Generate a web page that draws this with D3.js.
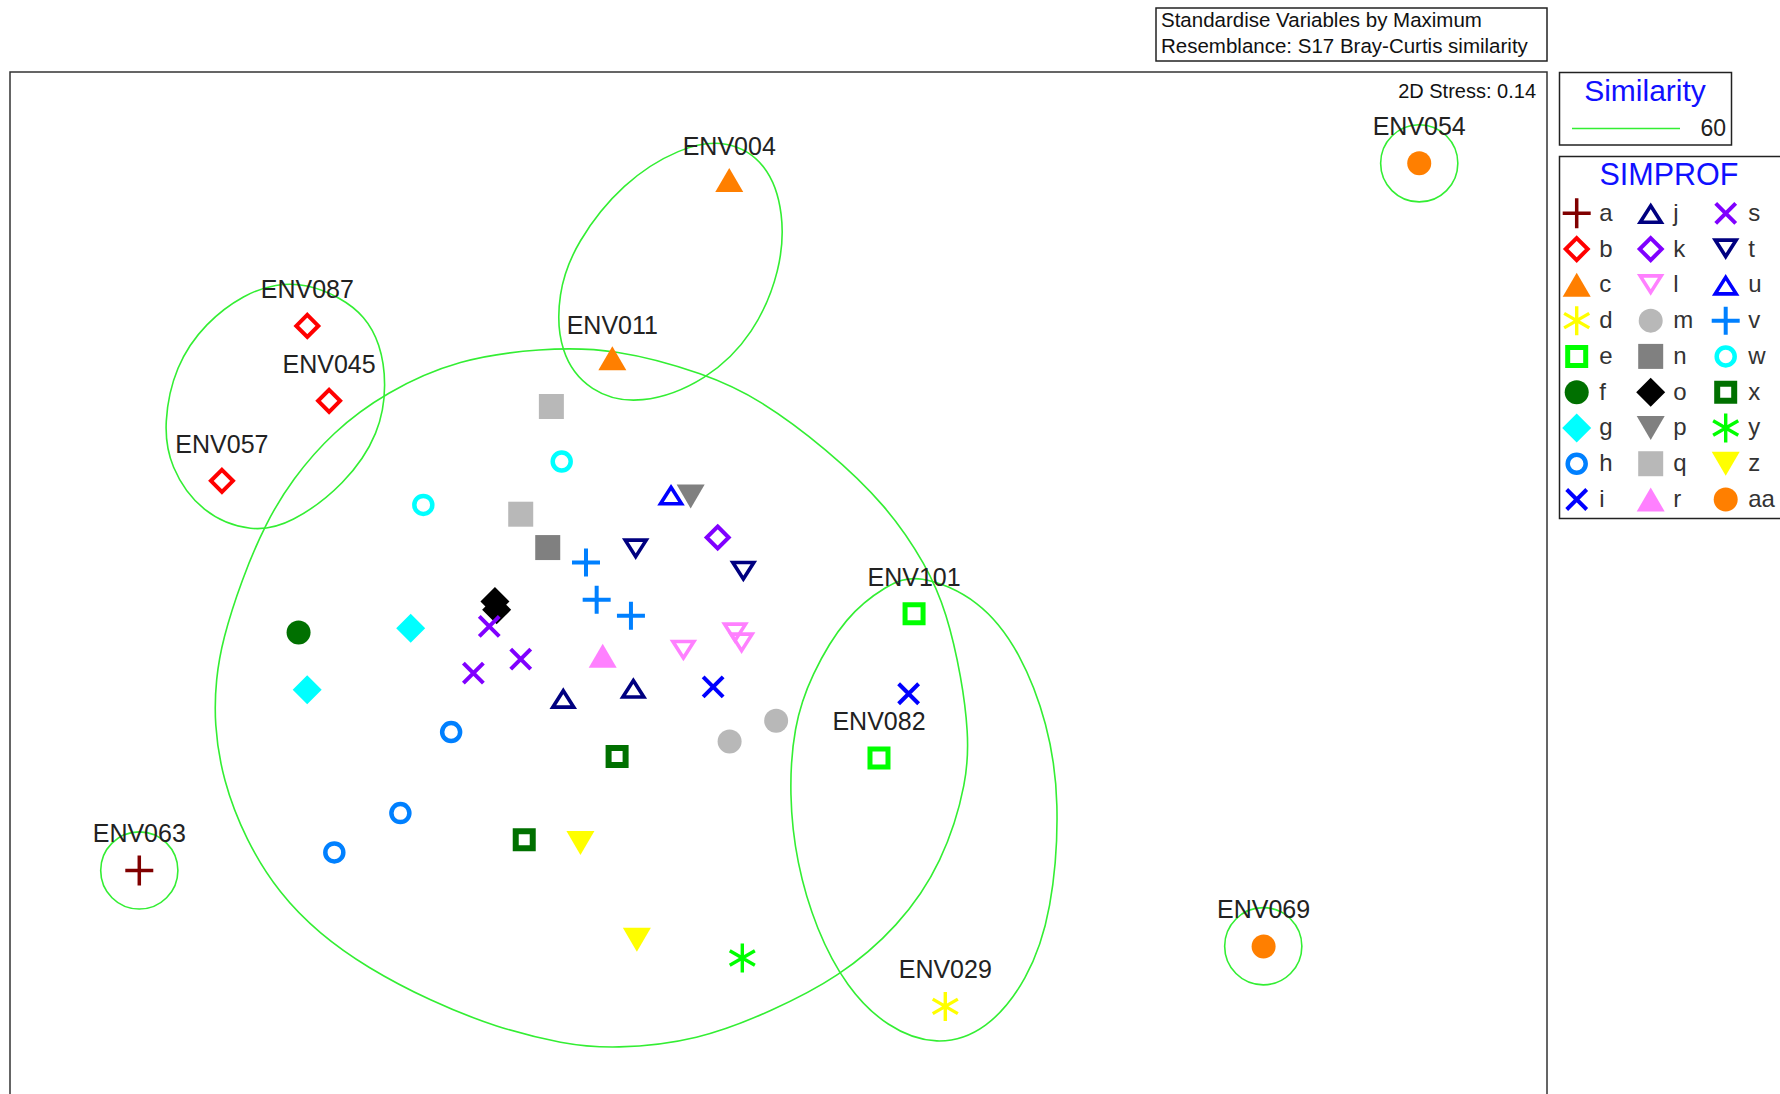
<!DOCTYPE html>
<html><head><meta charset="utf-8">
<script src="https://cdn.jsdelivr.net/npm/d3@7"></script>
<style>html,body{margin:0;padding:0;background:#fff;} svg{display:block;font-family:"Liberation Sans",Arial,sans-serif;}</style>
</head><body><svg id="chart" width="1780" height="1094"></svg>
<script>
// ---------- DATA (MDS ordination, plot units) ----------
const sampleGroup = ["a","b","b","b","c","c","d","e","e","f","g","g","h","h","h","i","i","j","j","k","l","l","l","m","m","n","o","o","p","q","q","r","s","s","s","t","t","u","v","v","v","w","w","x","x","y","z","z","aa","aa"];
const mds1 = [122.7, 270.7,289.9,195.5, 642.4,539.4, 832.7, 805.2,774.3, 263, 361.8,270.6, 397.4,352.7,294.5, 628.2,800.4, 496.2,557.9, 632.2, 602,647.5,653.3, 642.7,683.7, 482.5, 436,437.5, 608.4, 485.7,458.7, 530.9, 431,458.7,417, 560,654.8, 591.1, 516.2,525.6,555.8, 494.8,372.9, 543.6,461.8, 653.9, 511.3,561, 1250.2,1113.1];
const mds2 = [767, 287.2,353.2,423.7, 158.6,315.6, 886.8, 540.9,668, 557.3, 553.5,607.8, 645.1,716.5,751.1, 605.2,611.3, 615.2,606.3, 473.6, 573.2,557.9,566.7, 653.3,635.1, 482.5, 530,537.3, 437.5, 358.2,453.1, 577.9, 552,580.8,593.1, 483.9,503.6, 436, 495.7,528.5,542.6, 406.7,444.9, 666.6,740, 844.2, 742.9,828, 143.9,834];
const sampleLabel = ["ENV063","ENV087","ENV045","ENV057","ENV004","ENV011","ENV029","ENV101","ENV082",
  "","","","","","","","","","","","","","","","","","","","","","","","","","","","","","","","","","","","","","","",
  "ENV054","ENV069"];

const legendGroups = ["a","b","c","d","e","f","g","h","i","j","k","l","m","n","o","p","q","r","s","t","u","v","w","x","y","z","aa"];

// 60% similarity contours
const contourBig = [[476,307],[540,306.5],[622.5,329.5],[669.5,352],[728.2,395.5],[781.1,445.5],[816.3,498.5],[834,539.5],[847.2,598],[853,645],[852.6,687.1],[830.6,760.5],[791.2,817],[738.6,861.4],[680.6,890.7],[614.9,917.1],[540.4,924.5],[496.2,920],[437.5,905.5],[378.8,882],[323,852.5],[281.5,823],[246,787.5],[216.5,740.5],[196,687],[188.6,637],[190.2,598],[195.9,564],[212.8,510.9],[233.9,461],[257.4,422.3],[292.6,381],[339.6,345.5],[404.5,316.1]];
const contourB = [[243,250],[270,250],[300,262],[321.3,278.5],[334.8,302.4],[340.8,337.7],[334.8,381.7],[304.4,426.8],[256.2,462],[222.5,469.4],[177.7,453.2],[149,411],[144,372.9],[154,322.5],[181,284],[215.7,259]];
const contourC = [[640,122.3],[676.4,143.4],[691,188],[688.1,237.8],[664.6,294.3],[623,335.7],[563.8,357.8],[519,346],[492.3,311.2],[490.8,258.4],[507,213.8],[548.6,160.5],[599,129.7]];
const contourE = [[807.5,504.6],[864,528],[899.5,575.5],[923,637.2],[934,704.7],[927,804.5],[905.2,864],[869.6,908.3],[825.2,922.4],[781,905.4],[745.6,870],[719,819.2],[701.5,760.5],[695,700],[699,640],[714,595.5],[745,542.5],[781,515.8]];
const singletonX = [122.7, 1250.2, 1112.8];
const singletonY = [767, 143.9, 833.8];
const singletonR = [34, 34, 34];

const titleLines = ["Standardise Variables by Maximum", "Resemblance: S17 Bray-Curtis similarity"];
const stressText = "2D Stress: 0.14";
const similarityLevel = "60";

// ---------- STYLES ----------
const groupStyle = {
 a:{shape:"plusDark", color:"#800000"}, b:{shape:"diamondOpen", color:"#FF0000"},
 c:{shape:"triUp", color:"#FF7F00"}, d:{shape:"asterisk", color:"#FFFF00"},
 e:{shape:"squareOpen", color:"#00FF00"}, f:{shape:"circle", color:"#007000"},
 g:{shape:"diamond", color:"#00FFFF"}, h:{shape:"circleOpen", color:"#0080FF"},
 i:{shape:"cross", color:"#0000FF"}, j:{shape:"triUpOpen", color:"#000080"},
 k:{shape:"diamondOpen", color:"#8000FF"}, l:{shape:"triDownOpen", color:"#FF80FF"},
 m:{shape:"circle", color:"#B8B8B8"}, n:{shape:"square", color:"#808080"},
 o:{shape:"diamond", color:"#000000"}, p:{shape:"triDown", color:"#808080"},
 q:{shape:"square", color:"#B8B8B8"}, r:{shape:"triUp", color:"#FF80FF"},
 s:{shape:"cross", color:"#8000FF"}, t:{shape:"triDownOpen", color:"#000080"},
 u:{shape:"triUpOpen", color:"#0000FF"}, v:{shape:"plus", color:"#0080FF"},
 w:{shape:"circleOpen", color:"#00FFFF"}, x:{shape:"squareOpenThick", color:"#007000"},
 y:{shape:"asterisk", color:"#00FF00"}, z:{shape:"triDown", color:"#FFFF00"},
 aa:{shape:"circle", color:"#FF7F00"}
};
const contourColor = "#33EE33";
const blue = "#1010FF";

const svg = d3.select("#chart");
const W = 1780, H = 1094;
const x = d3.scaleLinear().domain([0, 1568]).range([0, W]);
const y = d3.scaleLinear().domain([0, 964]).range([0, H]);

function drawMarker(g, shape, color) {
  const line = (d, w) => g.append("path").attr("d", d).attr("fill", "none").attr("stroke", color).attr("stroke-width", w);
  switch (shape) {
    case "plus": line("M-14,0H14M0,-14V14", 4); break;
    case "plusDark": line("M-14,0H14M0,-15V15", 3.5); break;
    case "cross": line("M-10,-10L10,10M-10,10L10,-10", 4); break;
    case "asterisk": {
      const r = 14.5, c = r * Math.cos(Math.PI / 6), s = r * Math.sin(Math.PI / 6);
      line(`M0,${-r}V${r}M${-c},${-s}L${c},${s}M${-c},${s}L${c},${-s}`, 3.4); break;
    }
    case "diamondOpen": line("M0,-11L11,0L0,11L-11,0Z", 4).attr("stroke-linejoin","miter"); break;
    case "diamond": g.append("path").attr("d", "M0,-14.5L14.5,0L0,14.5L-14.5,0Z").attr("fill", color); break;
    case "triUp": g.append("path").attr("d", "M0,-12L14,12L-14,12Z").attr("fill", color); break;
    case "triDown": g.append("path").attr("d", "M0,12L14,-12L-14,-12Z").attr("fill", color); break;
    case "triUpOpen": line("M0,-7.5L10.5,9L-10.5,9Z", 3.6); break;
    case "triDownOpen": line("M0,7.5L10.5,-9L-10.5,-9Z", 3.6); break;
    case "squareOpen": line("M-9,-9H9V9H-9Z", 5); break;
    case "squareOpenThick": line("M-8.5,-8.5H8.5V8.5H-8.5Z", 6); break;
    case "square": g.append("rect").attr("x", -12.5).attr("y", -12.5).attr("width", 25).attr("height", 25).attr("fill", color); break;
    case "circle": g.append("circle").attr("r", 12).attr("fill", color); break;
    case "circleOpen": g.append("circle").attr("r", 9).attr("fill", "none").attr("stroke", color).attr("stroke-width", 4.5); break;
  }
}

// ---------- header box ----------
svg.append("rect").attr("x", 1156).attr("y", 8).attr("width", 391).attr("height", 53)
  .attr("fill", "none").attr("stroke", "#222").attr("stroke-width", 1.5);
svg.selectAll("text.title").data(titleLines).join("text").attr("class", "title")
  .attr("x", 1161).attr("y", (d, i) => 27 + i * 26).attr("font-size", 20.5).attr("fill", "#111").text(d => d);

// ---------- frame ----------
svg.append("rect").attr("x", 10).attr("y", 72).attr("width", 1537).attr("height", 1100)
  .attr("fill", "none").attr("stroke", "#333").attr("stroke-width", 1.5);
svg.append("text").attr("x", 1536).attr("y", 97.5).attr("text-anchor", "end").attr("font-size", 20)
  .attr("fill", "#111").text(stressText);

// ---------- contours ----------
const cg = svg.append("g").attr("fill", "none").attr("stroke", contourColor).attr("stroke-width", 1.6);
const lineGen = d3.line().x(d => x(d[0])).y(d => y(d[1])).curve(d3.curveBasisClosed);
[contourBig, contourB, contourC, contourE].forEach(c => cg.append("path").attr("d", lineGen(c)));
singletonX.forEach((sx, i) => cg.append("circle").attr("cx", x(sx)).attr("cy", y(singletonY[i])).attr("r", x(singletonR[i]) - x(0)));

// ---------- points ----------
const idx = d3.range(mds1.length);
const order = idx.slice().sort((a, b) => legendGroups.indexOf(sampleGroup[a]) - legendGroups.indexOf(sampleGroup[b]));
const pg = svg.append("g");
order.forEach(i => {
  const g = pg.append("g").attr("transform", `translate(${x(mds1[i])},${y(mds2[i])})`);
  const st = groupStyle[sampleGroup[i]];
  drawMarker(g, st.shape, st.color);
});
// labels
svg.append("g").selectAll("text").data(idx.filter(i => sampleLabel[i])).join("text")
  .attr("x", i => x(mds1[i]))
  .attr("y", i => y(mds2[i]) - (groupStyle[sampleGroup[i]].shape === "triUp" ? 24.5 : 28))
  .attr("text-anchor", "middle").attr("font-size", 25).attr("fill", "#222").text(i => sampleLabel[i]);

// ---------- similarity legend ----------
svg.append("rect").attr("x", 1559.5).attr("y", 72.5).attr("width", 172).attr("height", 72.5)
  .attr("fill", "none").attr("stroke", "#222").attr("stroke-width", 1.5);
svg.append("text").attr("x", 1645).attr("y", 101).attr("text-anchor", "middle").attr("font-size", 30)
  .attr("fill", blue).text("Similarity");
svg.append("line").attr("x1", 1572).attr("x2", 1680).attr("y1", 128.5).attr("y2", 128.5)
  .attr("stroke", contourColor).attr("stroke-width", 1.6);
svg.append("text").attr("x", 1726).attr("y", 135.5).attr("text-anchor", "end").attr("font-size", 23)
  .attr("fill", "#222").text(similarityLevel);

// ---------- SIMPROF legend ----------
svg.append("rect").attr("x", 1559.5).attr("y", 156.5).attr("width", 240).attr("height", 362)
  .attr("fill", "none").attr("stroke", "#222").attr("stroke-width", 1.5);
svg.append("text").attr("x", 1669).attr("y", 185).attr("text-anchor", "middle").attr("font-size", 30.5)
  .attr("fill", blue).text("SIMPROF");
const colX = [1576.7, 1650.7, 1725.7];
const rowY = d3.scaleLinear().domain([0, 8]).range([213.3, 499.5]);
legendGroups.forEach((gId, k) => {
  const col = Math.floor(k / 9), row = k % 9;
  const g = svg.append("g").attr("transform", `translate(${colX[col]},${rowY(row)})`);
  drawMarker(g, groupStyle[gId].shape, groupStyle[gId].color);
  svg.append("text").attr("x", colX[col] + 22.5).attr("y", rowY(row) + 7.5).attr("font-size", 24)
    .attr("fill", "#333").text(gId);
});
</script></body></html>
